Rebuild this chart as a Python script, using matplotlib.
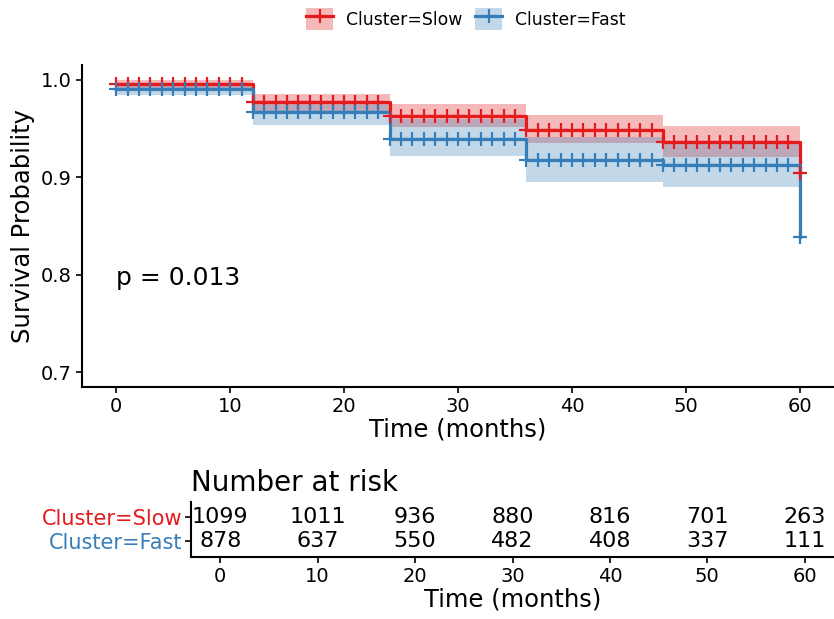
import matplotlib
matplotlib.use("Agg")
import matplotlib.pyplot as plt
from matplotlib.patches import Patch
from matplotlib.lines import Line2D
import numpy as np

# step times (months) and survival estimates
step_times = [0, 12, 24, 36, 48, 60]
slow_surv = [0.9956, 0.9767, 0.9631, 0.9487, 0.9361, 0.9039]
slow_lo = [0.9910, 0.9670, 0.9510, 0.9350, 0.9210, 0.9039]
slow_hi = [0.9995, 0.9856, 0.9750, 0.9634, 0.9528, 0.9039]
fast_surv = [0.9904, 0.9665, 0.9392, 0.9176, 0.9128, 0.8387]
fast_lo = [0.9846, 0.9531, 0.9214, 0.8954, 0.8896, 0.8387]
fast_hi = [0.9960, 0.9778, 0.9597, 0.9412, 0.9370, 0.8387]

# censoring marks (monthly)
censor_times = list(range(0, 61))

risk_times = [0, 10, 20, 30, 40, 50, 60]
slow_risk = [1099, 1011, 936, 880, 816, 701, 263]
fast_risk = [878, 637, 550, 482, 408, 337, 111]

groups = ["Cluster=Slow", "Cluster=Fast"]
colors = ["#E41A1C", "#377EB8"]
p_text = "p = 0.013"


def surv_at(times, surv, t):
    idx = np.searchsorted(times, t, side="right") - 1
    return np.asarray(surv)[idx]


fig = plt.figure(figsize=(8.34, 6.19), dpi=100)
ax = fig.add_axes([82 / 834, 1 - 387 / 619, 1 - 82 / 834, (387 - 65) / 619])
tab = fig.add_axes([191 / 834, 1 - 557 / 619, 1 - 191 / 834, (557 - 502) / 619])

series = [
    (slow_surv, slow_lo, slow_hi),
    (fast_surv, fast_lo, fast_hi),
]
handles = []
for (surv, lo, hi), color, name in zip(series, colors, groups):
    ax.fill_between(step_times, lo, hi, step="post", color=color,
                    alpha=0.3, lw=0)
    ax.plot(step_times, surv, drawstyle="steps-post", color=color, lw=2.3)
    handles.append((Patch(facecolor=color, alpha=0.3, lw=0),
                    Line2D([], [], color=color, lw=2.3, marker="+", ms=10,
                           mew=1.6)))

# censor ticks on top of every line
for (surv, lo, hi), color in zip(series, colors):
    cs = surv_at(step_times, surv, censor_times)
    ax.plot(censor_times, cs, ls="none", marker="+", ms=10, mew=1.6,
            color=color, zorder=3)

ax.set_xlim(-3, 63)
ax.set_ylim(0.685, 1.015)
ax.set_xticks(risk_times)
ax.set_yticks([0.7, 0.8, 0.9, 1.0])
ax.tick_params(labelsize=14, width=1.2, length=4)
ax.set_xlabel("Time (months)", fontsize=17.5, labelpad=1)
ax.set_ylabel("Survival Probability", fontsize=17.5, labelpad=4)
for side in ["top", "right"]:
    ax.spines[side].set_visible(False)
for side in ["left", "bottom"]:
    ax.spines[side].set_linewidth(1.5)
ax.text(0, 0.797, p_text, fontsize=18, va="center", ha="left")

fig.legend(handles, groups, loc="center", ncol=2, frameon=False,
           fontsize=12.4, bbox_to_anchor=(466 / 834, 1 - 19 / 619),
           handlelength=1.57, handleheight=1.57, handletextpad=0.75,
           columnspacing=0.75)

# number at risk table
for row, (counts, color) in enumerate(zip([slow_risk, fast_risk], colors)):
    for t, n in zip(risk_times, counts):
        tab.text(t, 1 - row, str(n), ha="center", va="center", fontsize=16)
tab.set_xlim(-3, 63)
tab.set_ylim(-0.65, 1.64)
tab.set_xticks(risk_times)
tab.set_yticks([1, 0])
tab.set_yticklabels(groups)
for lbl, color in zip(tab.get_yticklabels(), colors):
    lbl.set_color(color)
tab.tick_params(labelsize=14, width=1.2, length=4)
tab.tick_params(axis="y", labelsize=15, pad=2)
tab.set_xlabel("Time (months)", fontsize=17.5, labelpad=1)
tab.set_title("Number at risk", loc="left", fontsize=20, pad=8)
for side in ["top", "right"]:
    tab.spines[side].set_visible(False)
for side in ["left", "bottom"]:
    tab.spines[side].set_linewidth(1.5)

fig.savefig("out.png", dpi=100)
